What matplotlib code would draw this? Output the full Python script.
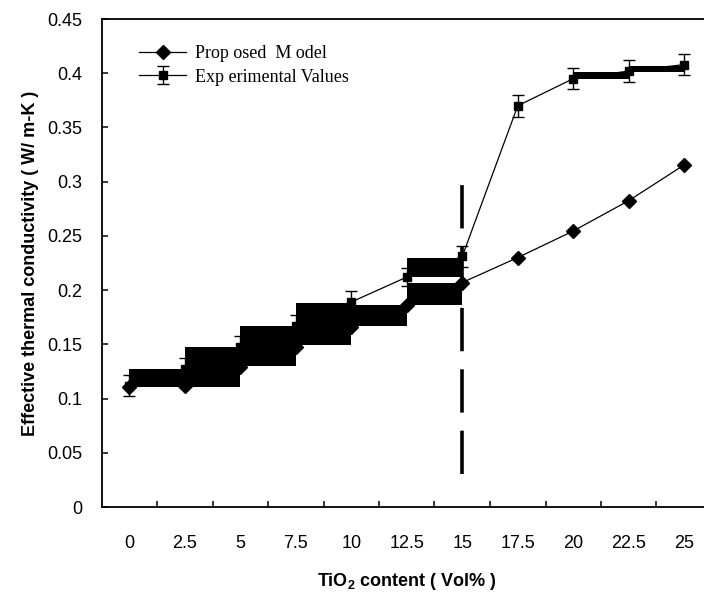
"""
Effective thermal conductivity vs TiO2 content
"""
import matplotlib
matplotlib.use('Agg')
import matplotlib.pyplot as plt
from matplotlib.transforms import Bbox

plt.rcParams['font.family'] = ['Liberation Sans', 'DejaVu Sans']
plt.rcParams['mathtext.fontset'] = 'custom'
plt.rcParams['mathtext.rm'] = 'Liberation Sans'
plt.rcParams['mathtext.bf'] = 'Liberation Sans:bold'

# data
categories = ['0', '2.5', '5', '7.5', '10', '12.5', '15', '17.5', '20', '22.5', '25']
model = [0.111, 0.112, 0.129, 0.148, 0.166, 0.186, 0.207, 0.230, 0.2545, 0.2825, 0.3155]
experimental = [0.112, 0.127, 0.148, 0.167, 0.189, 0.212, 0.231, 0.370, 0.395, 0.402, 0.408]
exp_error = [0.010, 0.010, 0.010, 0.010, 0.010, 0.008, 0.0095, 0.010, 0.010, 0.010, 0.010]

# black filled blocks between categories (start index, low, high)
box_start = [0, 1, 2, 3, 4, 5, 5, 8, 9]
box_low = [0.111, 0.111, 0.130, 0.149, 0.167, 0.186, 0.2125, 0.395, 0.401]
box_high = [0.127, 0.148, 0.167, 0.188, 0.186, 0.207, 0.230, 0.4015, 0.407]

# dashed marker line at 15 vol%
dash_cat = 6
dash_range = [0.03, 0.297]

yticks = [0, 0.05, 0.1, 0.15, 0.2, 0.25, 0.3, 0.35, 0.4, 0.45]
ytick_labels = ['0', '0.05', '0.1', '0.15', '0.2', '0.25', '0.3', '0.35', '0.4', '0.45']

W, H = 704, 597
fig = plt.figure(figsize=(W / 100, H / 100), dpi=100)
# plot area runs past the right edge, as in the original
ax = fig.add_axes([101.5 / W, (H - 507) / H, 610.5 / W, 488 / H])

x = list(range(len(categories)))

# blocks
ax.bar([box_start[i] for i in range(len(box_start))],
       [box_high[i] - box_low[i] for i in range(len(box_start))],
       bottom=box_low, width=1.0, align='edge', color='black',
       linewidth=0, zorder=2)

ax.plot(x, model, color='black', linewidth=0.9, marker='D', markersize=7,
        markerfacecolor='black', markeredgecolor='black', zorder=3,
        label='Prop osed  M odel')
ax.errorbar(x, experimental, yerr=exp_error, color='black', linewidth=0.9,
            marker='s', markersize=6, capsize=4, capthick=1.0, elinewidth=1.0,
            zorder=3, label='Exp erimental Values')

ax.plot([dash_cat, dash_cat], dash_range, color='black', linewidth=2.6,
        linestyle=(0, (12, 5)), zorder=4)

ax.set_xlim(-0.5, len(categories) - 0.5)
ax.set_ylim(0, 0.45)

ax.set_xticks(x)
ax.set_xticklabels(categories)
ax.set_xticks([i + 0.5 for i in range(len(categories) - 1)], minor=True)
ax.tick_params(axis='x', which='major', length=0, pad=20, labelsize=13)
ax.tick_params(axis='x', which='minor', direction='in', length=4, width=1.1)

ax.set_yticks(yticks)
ax.set_yticklabels(ytick_labels)
ax.tick_params(axis='y', direction='in', length=4, width=1.1, pad=14, labelsize=13)

for s in ax.spines.values():
    s.set_linewidth(1.3)

ax.set_xlabel(r'TiO$_\mathbf{2}$ content ( Vol% )', fontsize=13,
              fontweight='bold', labelpad=14)
ax.set_ylabel('Effective thermal conductivity ( W/ m-K )', fontsize=13,
              fontweight='bold', labelpad=6)

leg = ax.legend(loc='upper left', bbox_to_anchor=(132 / W, 1 - 38 / H),
                bbox_transform=fig.transFigure, frameon=False,
                prop={'family': 'Liberation Serif', 'size': 13},
                handlelength=2.6, handletextpad=0.5, labelspacing=0.35,
                borderaxespad=0)

fig.savefig('out.png', dpi=100)
